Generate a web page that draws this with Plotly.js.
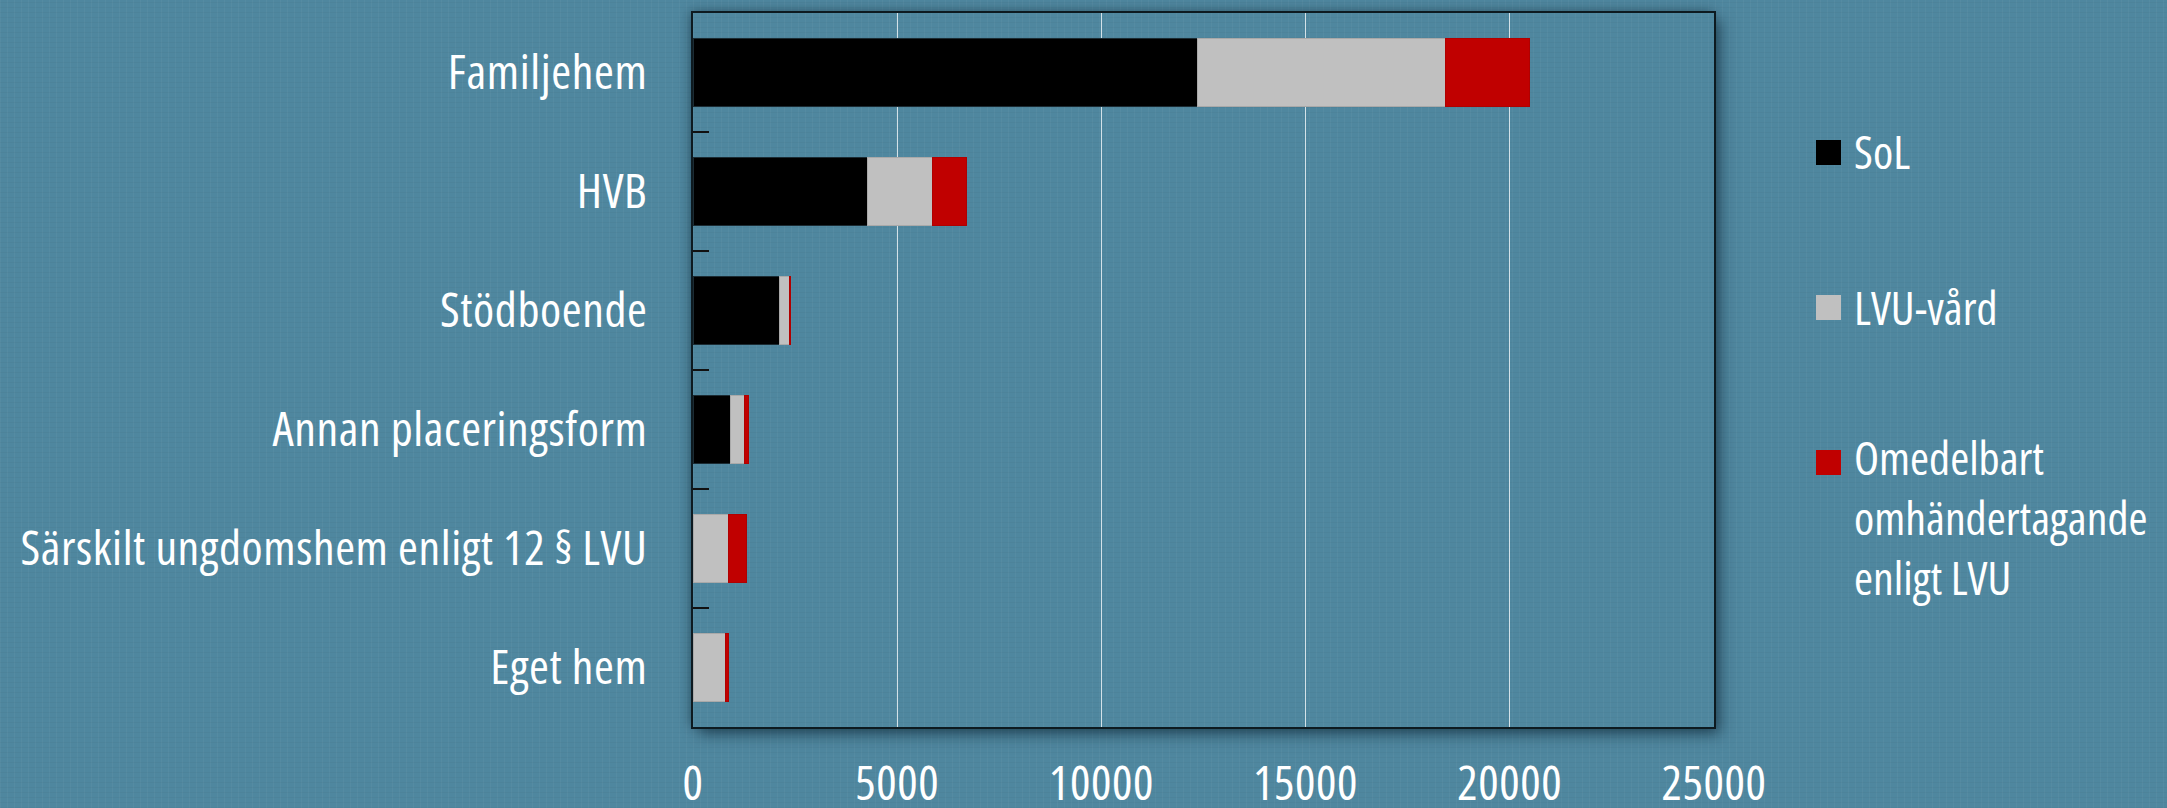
<!DOCTYPE html>
<html>
<head>
<meta charset="utf-8">
<script src="https://cdn.plot.ly/plotly-3.0.1.min.js"></script>
<style>
  html, body { margin: 0; padding: 0; background: #4f879f; }
  text { font-stretch: 75%; letter-spacing: 0.6px; }
  text.annotation-text { letter-spacing: 0px; }
  #wrap { position: relative; width: 2167px; height: 808px; overflow: hidden;
    background-color: #4f879f;
    background-image:
      repeating-linear-gradient(90deg, rgba(255,255,255,0.035) 0px, rgba(255,255,255,0.035) 1px, transparent 1px, transparent 7px),
      repeating-linear-gradient(0deg, rgba(0,0,0,0.03) 0px, rgba(0,0,0,0.03) 1px, transparent 1px, transparent 5px);
  }
  #shadow { position: absolute; left: 693px; top: 13px; width: 1021px; height: 714px;
    box-shadow: 6px 7px 14px rgba(0,20,35,0.55), -3px -2px 10px rgba(0,20,35,0.35); }
  #chart { position: absolute; left: 0; top: 0; width: 2167px; height: 808px; }
</style>
</head>
<body>
<div id="wrap">
  <div id="shadow"></div>
  <div id="chart"></div>
</div>
<script>
const categories = [
  "Familjehem",
  "HVB",
  "Stödboende",
  "Annan placeringsform",
  "Särskilt ungdomshem enligt 12 § LVU",
  "Eget hem"
];
const seriesNames = ["SoL", "LVU-vård", "Omedelbart<br>omhändertagande<br>enligt LVU"];
const solValues  = [12360, 4280, 2110, 920, 0, 0];
const lvuValues  = [6060, 1590, 250, 340, 880, 800];
const omedValues = [2070, 830, 20, 100, 425, 70];
const xTickValues = [0, 5000, 10000, 15000, 20000, 25000];
const xTickLabels = ["0", "5000", "10000", "15000", "20000", "25000"];

const seriesValues = [solValues, lvuValues, omedValues];
const colors = ["#000000", "#c0c0c0", "#c00000"];
const lineColors = ["#1b2b33", "#a9a9a9", "#b00000"];

const FONT = '"Open Sans", sans-serif';
const FSIZE = 48;
const LEGEND_FSIZE = 46;
const FWEIGHT = 400;

const W = 2167, H = 808;
const M = { l: 693, r: 453, t: 13, b: 81 };
const PW = W - M.l - M.r, PH = H - M.t - M.b;
const px2x = p => (p - M.l) / PW;
const px2y = p => (H - M.b - p) / PH;

const traces = seriesValues.map((vals, i) => ({
  type: "bar",
  orientation: "h",
  name: seriesNames[i].replace(/<br>/g, " "),
  y: categories,
  x: vals,
  marker: { color: colors[i], line: { color: lineColors[i], width: 1 } },
  hoverinfo: "x+y+name",
  showlegend: false
}));

// custom legend (large square swatches)
const legendTop = [140, 295, 450];
const sw = 25;
const shapes = [];
const annotations = [];
seriesNames.forEach((nm, i) => {
  const y0 = legendTop[i];
  shapes.push({
    type: "rect", xref: "paper", yref: "paper",
    x0: px2x(1816), x1: px2x(1816 + sw),
    y0: px2y(y0 + sw), y1: px2y(y0),
    fillcolor: colors[i], line: { width: 0 }
  });
  const nLines = nm.split("<br>").length;
  const firstLineCentre = y0 + sw / 2 - 1;
  const refGap = 55;
  const blockCentre = firstLineCentre + (nLines - 1) * refGap / 2;
  annotations.push({
    xref: "paper", yref: "paper",
    x: px2x(1852), xanchor: "left",
    y: px2y(blockCentre), yanchor: "middle",
    text: nm, showarrow: false, align: "left",
    font: { family: FONT, size: LEGEND_FSIZE, weight: FWEIGHT, color: "#ffffff" }
  });
});

const tickFont = { family: FONT, size: FSIZE, weight: FWEIGHT, color: "#ffffff" };

const layout = {
  width: W,
  height: H,
  barmode: "stack",
  bargap: 0.43,
  paper_bgcolor: "rgba(0,0,0,0)",
  plot_bgcolor: "rgba(0,0,0,0)",
  margin: { l: M.l, r: M.r, t: M.t, b: M.b, pad: 0, autoexpand: false },
  font: { family: FONT, size: FSIZE, weight: FWEIGHT, color: "#ffffff" },
  showlegend: false,
  shapes: shapes,
  annotations: annotations,
  xaxis: {
    range: [0, 25000],
    tickvals: xTickValues,
    ticktext: xTickLabels,
    showgrid: true,
    gridcolor: "rgba(235,242,245,0.85)",
    gridwidth: 1,
    zeroline: false,
    showline: true,
    mirror: true,
    linecolor: "#0d1a20",
    linewidth: 2,
    ticks: "",
    ticklabelstandoff: 13,
    tickfont: tickFont,
    fixedrange: true
  },
  yaxis: {
    type: "category",
    categoryorder: "array",
    categoryarray: categories,
    autorange: "reversed",
    showgrid: false,
    zeroline: false,
    showline: true,
    mirror: true,
    linecolor: "#0d1a20",
    linewidth: 2,
    ticks: "inside",
    tickson: "boundaries",
    ticklen: 16,
    tickwidth: 2,
    tickcolor: "#111111",
    ticklabelstandoff: 34,
    tickfont: tickFont,
    fixedrange: true
  }
};

Plotly.newPlot("chart", traces, layout, { displayModeBar: false, staticPlot: true });
</script>
</body>
</html>
